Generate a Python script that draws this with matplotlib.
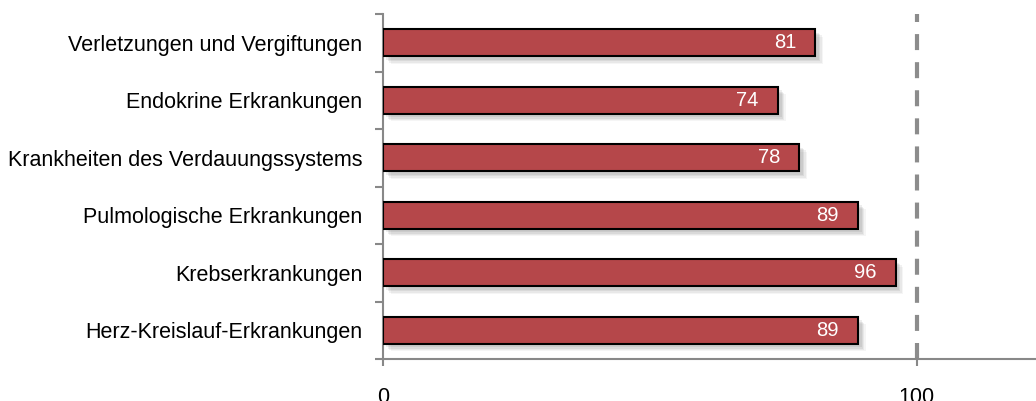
import matplotlib
matplotlib.use("Agg")
import matplotlib.pyplot as plt
import matplotlib.patheffects as pe
import numpy as np

categories = ["Verletzungen und Vergiftungen", "Endokrine Erkrankungen",
              "Krankheiten des Verdauungssystems", "Pulmologische Erkrankungen",
              "Krebserkrankungen", "Herz-Kreislauf-Erkrankungen"]
values = [81, 74, 78, 89, 96, 89]
xticks = [0, 100]

plt.rcParams['font.family'] = ['Liberation Sans', 'DejaVu Sans']

fig = plt.figure(figsize=(10.36, 4.01), dpi=100)
ax = fig.add_axes([383/1036, 1-359/401, 1-383/1036, (359-14)/401])

y = np.arange(len(categories))[::-1]
bars = ax.barh(y, values, height=0.47, color='#B5474A', edgecolor='black',
               linewidth=1.5, zorder=3)
shadow = []
for off, a in [((5.5, -5.5), 0.06), ((4.5, -4.5), 0.08), ((3.5, -3.5), 0.10), ((2.5, -2.5), 0.10)]:
    shadow.append(pe.SimplePatchShadow(offset=off, shadow_rgbFace='#555555', alpha=a))
for b in bars:
    b.set_path_effects(shadow + [pe.Normal()])
for yi, v in zip(y, values):
    ax.annotate(str(v), (v, yi), xytext=(-14, 0), textcoords='offset points',
                ha='right', va='center', color='white', fontsize=14.5, zorder=4)

ax.axvline(100, color='#8c8c8c', linewidth=3, linestyle=(0, (3.84, 2.9)), zorder=2)

ax.set_xlim(0, 122.3)
ax.set_ylim(-0.5, len(categories) - 0.5)
ax.set_yticks(y)
ax.set_yticklabels(categories, fontsize=15.5)
ax.set_yticks(np.arange(-0.5, len(categories)), minor=True)
ax.tick_params(axis='y', which='major', length=0, pad=15)
ax.tick_params(axis='y', which='minor', length=6, width=1.5, color='#888888')
ax.set_xticks(xticks)
ax.set_xticklabels([str(t) for t in xticks], fontsize=15.5)
ax.tick_params(axis='x', length=5, width=1.5, color='#888888', pad=15)

for s in ['top', 'right']:
    ax.spines[s].set_visible(False)
for s in ['left', 'bottom']:
    ax.spines[s].set_color('#888888')
    ax.spines[s].set_linewidth(1.5)

fig.savefig('out.png', dpi=100)
